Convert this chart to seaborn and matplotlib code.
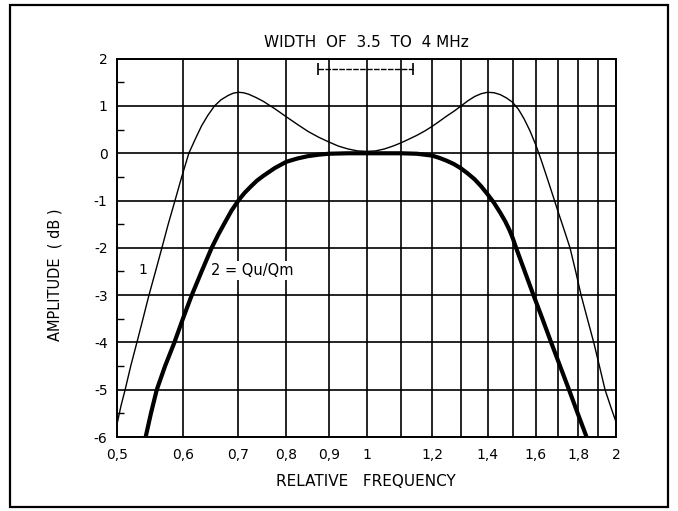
import matplotlib
matplotlib.use("Agg")
import matplotlib.pyplot as plt
import numpy as np
import pandas as pd
import seaborn as sns
from matplotlib.patches import Rectangle

# ---- data ----
freq1 = [0.500, 0.505, 0.511, 0.519, 0.528, 0.537, 0.546, 0.556, 0.566, 0.576, 0.587, 0.598,
         0.610, 0.621, 0.632, 0.643, 0.655, 0.667, 0.680, 0.690, 0.700, 0.710, 0.720, 0.735,
         0.750, 0.775, 0.800, 0.825, 0.850, 0.875, 0.900, 0.925, 0.950, 0.975, 1.000, 1.025,
         1.050, 1.075, 1.100, 1.125, 1.150, 1.175, 1.200, 1.225, 1.250, 1.275, 1.300, 1.325,
         1.350, 1.375, 1.400, 1.425, 1.450, 1.475, 1.500, 1.525, 1.550, 1.575, 1.600, 1.625,
         1.650, 1.675, 1.700, 1.730, 1.760, 1.788, 1.815, 1.847, 1.880, 1.910, 1.940, 1.970,
         2.000]
amp1 = [-5.70, -5.35, -5.00, -4.50, -4.00, -3.50, -3.00, -2.50, -2.00, -1.50, -1.00, -0.50,
        0.00, 0.30, 0.58, 0.80, 1.00, 1.13, 1.22, 1.27, 1.29, 1.28, 1.25, 1.18,
        1.10, 0.94, 0.77, 0.61, 0.46, 0.34, 0.24, 0.15, 0.09, 0.05, 0.04, 0.05,
        0.09, 0.15, 0.22, 0.30, 0.38, 0.47, 0.57, 0.68, 0.79, 0.89, 1.00, 1.11,
        1.20, 1.26, 1.29, 1.28, 1.24, 1.17, 1.08, 0.93, 0.72, 0.47, 0.18, -0.15,
        -0.50, -0.85, -1.20, -1.60, -2.00, -2.50, -3.00, -3.50, -4.00, -4.50, -5.00, -5.35,
        -5.68]

freq2 = [0.541, 0.549, 0.558, 0.571, 0.586, 0.600, 0.615, 0.632, 0.650, 0.662, 0.675, 0.687,
         0.700, 0.712, 0.725, 0.737, 0.750, 0.775, 0.800, 0.825, 0.850, 0.875, 0.900, 0.950,
         1.000, 1.050, 1.100, 1.150, 1.175, 1.200, 1.225, 1.250, 1.275, 1.300, 1.325, 1.350,
         1.375, 1.400, 1.425, 1.450, 1.470, 1.487, 1.500, 1.515, 1.552, 1.590, 1.630, 1.670,
         1.712, 1.755, 1.798, 1.843]
amp2 = [-6.00, -5.50, -5.00, -4.50, -4.00, -3.50, -3.00, -2.50, -2.00, -1.72, -1.45, -1.21,
        -1.00, -0.84, -0.70, -0.58, -0.48, -0.31, -0.18, -0.11, -0.06, -0.03, -0.01, 0.00,
        0.00, 0.00, 0.00, -0.01, -0.03, -0.05, -0.10, -0.16, -0.23, -0.32, -0.43, -0.55,
        -0.70, -0.87, -1.05, -1.26, -1.44, -1.62, -1.78, -2.00, -2.50, -3.00, -3.50, -4.00,
        -4.50, -5.00, -5.50, -6.00]

grid_freqs = [0.5, 0.6, 0.7, 0.8, 0.9, 1.0, 1.1, 1.2, 1.3, 1.4, 1.5, 1.6, 1.7, 1.8, 1.9, 2.0]
grid_labels = ["0,5", "0,6", "0,7", "0,8", "0,9", "1", "", "1,2", "", "1,4", "", "1,6", "", "1,8", "", "2"]
amp_ticks = [2, 1, 0, -1, -2, -3, -4, -5, -6]
amp_labels = ["2", "1", "0", "-1", "-2", "-3", "-4", "-5", "-6"]
amp_minor = [1.5, 0.5, -0.5, -1.5, -2.5, -3.5, -4.5, -5.5]

bracket_range = [0.873, 1.138]
bracket_level = 1.78

title = "WIDTH  OF  3.5  TO  4 MHz"
xlabel = "RELATIVE   FREQUENCY"
ylabel = "AMPLITUDE  ( dB )"
label1 = "1"
label2 = "2 = Qu/Qm"
label1_pos = (0.537, -2.47)
label2_pos = (0.648, -2.47)

# ---- drawing ----
sns.set_theme(style="white")
plt.rcParams["font.family"] = ["DejaVu Sans"]
plt.rcParams["axes.unicode_minus"] = False

W, H = 678, 511
fig = plt.figure(figsize=(W / 100, H / 100), dpi=100)
fig.patch.set_facecolor("white")
ax = fig.add_axes([117.3 / W, 1 - 437 / H, (616 - 117.3) / W, (437 - 58.7) / H])

df1 = pd.DataFrame({"freq": freq1, "amp": amp1})
df2 = pd.DataFrame({"freq": freq2, "amp": amp2})
sns.lineplot(data=df1, x="freq", y="amp", ax=ax, color="black", linewidth=1.0,
             estimator=None, sort=False, zorder=3)
sns.lineplot(data=df2, x="freq", y="amp", ax=ax, color="black", linewidth=3.0,
             estimator=None, sort=False, zorder=4)

ax.set_xscale("log")
ax.set_xlim(0.5, 2.0)
ax.set_ylim(-6, 2)
ax.set_xticks(grid_freqs)
ax.set_xticklabels(grid_labels)
ax.xaxis.set_minor_locator(matplotlib.ticker.NullLocator())
ax.set_yticks(amp_ticks)
ax.set_yticklabels(amp_labels)
ax.set_yticks(amp_minor, minor=True)
ax.tick_params(axis="x", which="major", length=0, pad=8, labelsize=10, labelcolor="black")
ax.tick_params(axis="y", which="major", length=0, pad=7, labelsize=10, labelcolor="black")
ax.tick_params(axis="y", which="minor", left=True, direction="in", length=5, width=1, color="black")
ax.grid(True, which="major", color="black", linewidth=1.2)
ax.set_axisbelow(True)
for s in ax.spines.values():
    s.set_color("black")
    s.set_linewidth(1.4)
ax.set_xlabel("")
ax.set_ylabel("")

# bracket
ax.hlines(bracket_level, bracket_range[0], bracket_range[1], color="black", linewidth=1.0,
          linestyles=(0, (4, 1)), zorder=5)
ax.vlines(bracket_range, bracket_level - 0.12, bracket_level + 0.12, color="black",
          linewidth=1.2, zorder=5)

ax.text(label1_pos[0], label1_pos[1], label1, fontsize=10, ha="center", va="center",
        color="black", zorder=6)
ax.text(label2_pos[0], label2_pos[1], label2, fontsize=10.5, ha="left", va="center",
        color="black", zorder=6,
        bbox=dict(facecolor="white", edgecolor="none", pad=1.5))

fig.text(366 / W, 1 - 42.7 / H, title, ha="center", va="center", fontsize=11, color="black")
fig.text(366 / W, 1 - 481.7 / H, xlabel, ha="center", va="center", fontsize=11, color="black")
fig.text(55 / W, 1 - 275 / H, ylabel, ha="center", va="center", rotation=90, fontsize=10.5,
         color="black")

fig.patches.append(Rectangle((10 / W, 1 - 507 / H), 658 / W, 502 / H, transform=fig.transFigure,
                             fill=False, edgecolor="black", linewidth=1.6))

fig.savefig("out.png", dpi=100, facecolor="white")
